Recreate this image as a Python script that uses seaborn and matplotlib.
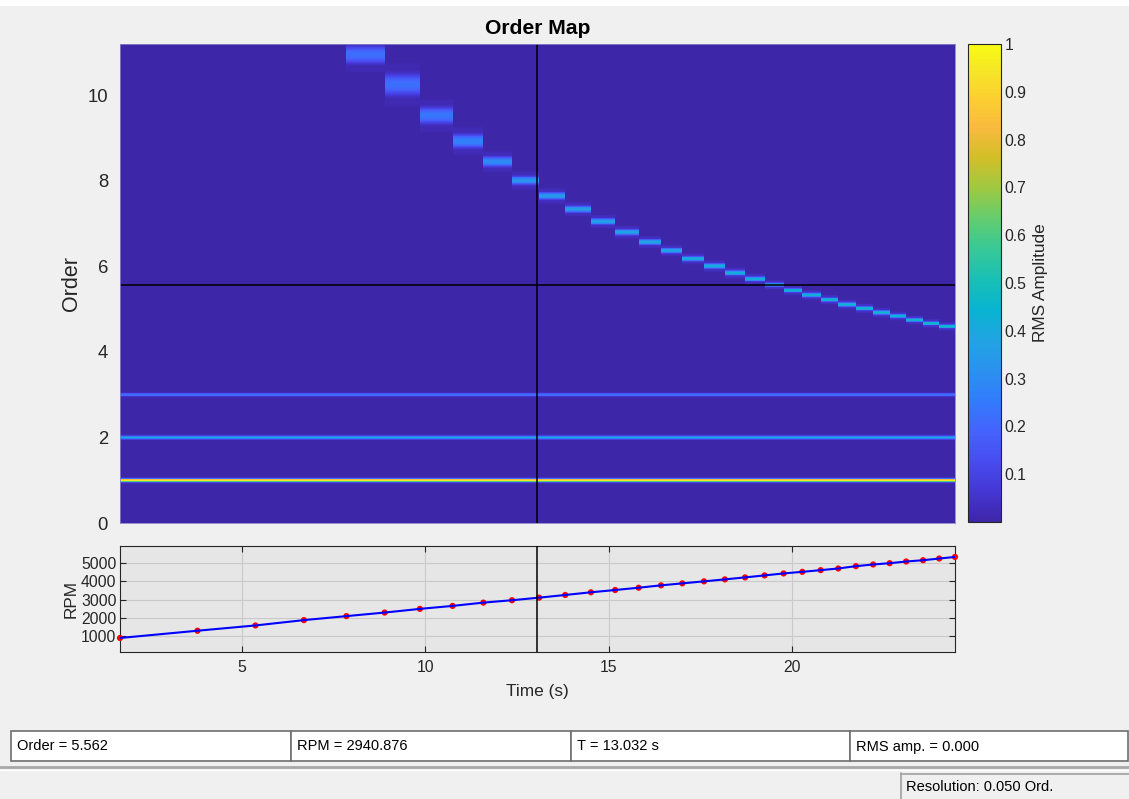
import numpy as np
import pandas as pd
import matplotlib
matplotlib.use("Agg")
import matplotlib.pyplot as plt
import seaborn as sns
from matplotlib.colors import LinearSegmentedColormap
from matplotlib.patches import Rectangle

# ---------------------------------------------------------------- data
# Tachometer samples; they also bound the time segments of the order map
time_s = [1.68, 3.79, 5.37, 6.69, 7.85, 8.89, 9.85, 10.74, 11.58, 12.36,
          13.10, 13.81, 14.51, 15.17, 15.81, 16.42, 17.00, 17.59, 18.16, 18.71,
          19.24, 19.76, 20.27, 20.77, 21.25, 21.73, 22.20, 22.65, 23.10, 23.56,
          24.00, 24.43]
rpm = [913, 1308, 1595, 1886, 2103, 2297, 2497, 2659, 2838, 2968,
       3108, 3254, 3400, 3524, 3649, 3778, 3886, 3995, 4103, 4211,
       4319, 4427, 4514, 4605, 4697, 4822, 4914, 4984, 5076, 5146,
       5238, 5324]

# Shaft harmonics (constant order) and their RMS amplitude
harmonic_orders = [1, 2, 3]
harmonic_amps = [0.97, 0.41, 0.23]

# Fixed-frequency component, one value per time segment:
# centre order, visible spread (orders) and peak RMS amplitude.
# None = above the displayed order range.
band_order = [None, None, None, None, 10.95, 10.25, 9.53, 8.93, 8.45, 8.01,
              7.65, 7.34, 7.05, 6.80, 6.57, 6.37, 6.18, 6.01, 5.85, 5.71,
              5.57, 5.44, 5.33, 5.22, 5.11, 5.02, 4.92, 4.84, 4.75, 4.67,
              4.60]
band_width = [None, None, None, None, 0.42, 0.51, 0.39, 0.33, 0.24, 0.20,
              0.17, 0.16, 0.15, 0.14, 0.13, 0.12, 0.12, 0.12, 0.12, 0.11,
              0.10, 0.10, 0.10, 0.10, 0.10, 0.10, 0.10, 0.09, 0.09, 0.09,
              0.09]
band_amp = [None, None, None, None, 0.22, 0.22, 0.24, 0.27, 0.30, 0.33,
            0.35, 0.36, 0.37, 0.38, 0.39, 0.40, 0.41, 0.42, 0.42, 0.43,
            0.45, 0.44, 0.44, 0.45, 0.45, 0.46, 0.46, 0.47, 0.47, 0.47,
            0.48]

max_order = 11.2
cursor_order = 5.562
cursor_rpm = 2940.876
cursor_time = 13.032
cursor_amp = 0.000
resolution = 0.050

# ---------------------------------------------------------------- colormap
parula_pos = [0, 4, 8, 12, 16, 20, 24, 28, 32, 36, 40, 44, 48, 52, 56, 60, 63]
parula_rgb = [(0.2422, 0.1504, 0.6603), (0.2706, 0.2147, 0.8364),
              (0.2813, 0.3006, 0.9414), (0.2699, 0.3892, 0.9906),
              (0.1963, 0.4847, 0.9892), (0.1687, 0.5703, 0.9359),
              (0.1248, 0.6459, 0.8883), (0.0297, 0.7082, 0.8163),
              (0.0964, 0.7500, 0.7120), (0.2161, 0.7843, 0.5923),
              (0.3909, 0.8029, 0.4354), (0.6174, 0.7876, 0.2612),
              (0.8203, 0.7498, 0.1535), (0.9728, 0.7298, 0.2394),
              (0.9892, 0.8136, 0.1885), (0.9597, 0.9135, 0.1423),
              (0.9769, 0.9839, 0.0805)]
parula = LinearSegmentedColormap.from_list(
    "parula", [(p / 63, c) for p, c in zip(parula_pos, parula_rgb)], N=256)

# ---------------------------------------------------------------- style
sns.set_style("ticks")
plt.rcParams["font.family"] = ["Liberation Sans", "DejaVu Sans"]
TXT = "#262626"
BG = "#f0f0f0"

W, H = 1129, 799
fig = plt.figure(figsize=(W / 100, H / 100), dpi=100, facecolor=BG)


def px_box(left, top, right, bottom):
    return [left / W, 1 - bottom / H, (right - left) / W, (bottom - top) / H]


# background decorations (status bar) in pixel coordinates
deco = fig.add_axes([0, 0, 1, 1])
deco.set_zorder(-1)
deco.set_xlim(0, W)
deco.set_ylim(H, 0)
deco.axis("off")
deco.add_patch(Rectangle((0, 0), W, 6, facecolor="white", edgecolor="none"))

ax = fig.add_axes(px_box(120, 44, 955, 523))
cax = fig.add_axes(px_box(968, 44, 1001, 522))
ax2 = fig.add_axes(px_box(120, 546, 955, 652))

# ---------------------------------------------------------------- order map
order_edges = np.linspace(0, max_order, 1121)
order_mid = 0.5 * (order_edges[:-1] + order_edges[1:])
amp = np.zeros((order_mid.size, len(time_s) - 1))
for h, a in zip(harmonic_orders, harmonic_amps):
    amp += a * np.exp(-0.5 * ((order_mid - h) / 0.026) ** 2)[:, None]
for j, (c, w, a) in enumerate(zip(band_order, band_width, band_amp)):
    if c is None:
        continue
    s = w / 2.9
    d = order_mid - c
    amp[:, j] += a * np.exp(-0.5 * np.abs(d / s) ** 2.6)
    # faint spectral side lobes just outside the main lobe
    for side in (-1, 1):
        amp[:, j] += 0.08 * a * np.exp(-0.5 * ((d - side * 0.85 * w) / (0.08 * w + 0.01)) ** 2)

mesh = ax.pcolormesh(time_s, order_edges, amp, cmap=parula, vmin=0, vmax=1,
                     shading="flat", rasterized=True)
ax.set_xlim(time_s[0], time_s[-1])
ax.set_ylim(0, max_order)
ax.set_yticks(np.arange(0, 11, 2))
ax.set_xticks([])
ax.tick_params(axis="y", length=0, pad=8.6, labelsize=13.3, labelcolor=TXT)
ax.set_ylabel("Order", fontsize=15.5, color=TXT, labelpad=4)
ax.set_title("Order Map", fontsize=15.2, fontweight="bold", pad=7.2, color="black")
for sp in ax.spines.values():
    sp.set_edgecolor("#8a80c8")
    sp.set_linewidth(0.6)
ax.axvline(cursor_time, color="black", lw=1.1)
ax.axhline(cursor_order, color="black", lw=1.1)

cb = fig.colorbar(mesh, cax=cax)
cb.set_ticks(np.round(np.arange(0.1, 1.01, 0.1), 1))
cb.set_ticklabels(["0.1", "0.2", "0.3", "0.4", "0.5", "0.6", "0.7", "0.8", "0.9", "1"])
cax.tick_params(direction="in", left=True, right=True, length=4, width=0.7,
                labelsize=11.3, pad=2.5, colors=TXT)
cb.outline.set_edgecolor(TXT)
cb.outline.set_linewidth(0.8)
cb.set_label("RMS Amplitude", fontsize=12.4, color=TXT, labelpad=5)

# ---------------------------------------------------------------- rpm profile
rpm_df = pd.DataFrame({"Time (s)": time_s, "RPM": rpm})
ax2.set_facecolor("#e6e6e6")
sns.scatterplot(data=rpm_df, x="Time (s)", y="RPM", ax=ax2, color="red", s=20,
                edgecolor="none", zorder=3, clip_on=False)
sns.lineplot(data=rpm_df, x="Time (s)", y="RPM", ax=ax2, color="blue", lw=1.5,
             zorder=4)
ax2.set_xlim(time_s[0], time_s[-1])
ax2.set_ylim(150, 5920)
ax2.set_xticks([5, 10, 15, 20])
ax2.set_yticks([1000, 2000, 3000, 4000, 5000])
ax2.grid(True, color="#c9c9c9", lw=0.8)
ax2.set_axisbelow(True)
ax2.tick_params(direction="in", top=True, right=True, length=4.5, width=0.8,
                labelsize=11.3, colors=TXT)
ax2.tick_params(axis="y", pad=2.5)
ax2.tick_params(axis="x", pad=6)
for sp in ax2.spines.values():
    sp.set_edgecolor(TXT)
    sp.set_linewidth(0.8)
ax2.set_xlabel("Time (s)", fontsize=12.4, color=TXT, labelpad=6)
ax2.set_ylabel("RPM", fontsize=12.4, color=TXT, labelpad=2)
ax2.axvline(cursor_time, color="black", lw=1.1, zorder=5)

# ---------------------------------------------------------------- status bar
fields = [f"Order = {cursor_order:.3f}", f"RPM = {cursor_rpm:.3f}",
          f"T = {cursor_time:.3f} s", f"RMS amp. = {cursor_amp:.3f}"]
edges = [11, 291, 571, 850, 1128]
for k, txt in enumerate(fields):
    deco.add_patch(Rectangle((edges[k], 731), edges[k + 1] - edges[k], 30,
                             facecolor="white", edgecolor="#6e6e6e", lw=1.2))
    deco.text(edges[k] + 6, 746.5, txt, fontsize=10.5, va="center", ha="left",
              color="black")
deco.plot([0, W], [767, 767], color="#a8a8a8", lw=2)
deco.plot([0, W], [769.5, 769.5], color="white", lw=1)
deco.plot([900.5, 900.5], [773, H], color="#a0a0a0", lw=1.2)
deco.plot([900.5, W], [773.5, 773.5], color="#a0a0a0", lw=1.2)
deco.text(906, 787, f"Resolution: {resolution:.3f} Ord.", fontsize=10.5,
          va="center", ha="left", color="black")

fig.savefig("out.png", dpi=100, facecolor=fig.get_facecolor())
